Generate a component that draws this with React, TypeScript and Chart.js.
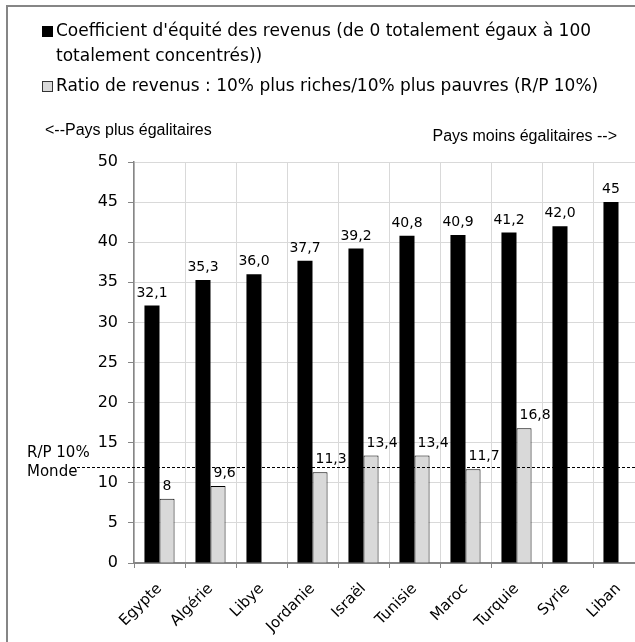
import { useEffect, useRef } from "react";
import { Chart, registerables } from "chart.js";

Chart.register(...registerables);

const categories = ["Egypte", "Algérie", "Libye", "Jordanie", "Israël", "Tunisie", "Maroc", "Turquie", "Syrie", "Liban"];
const giniValues = [32.1, 35.3, 36.0, 37.7, 39.2, 40.8, 40.9, 41.2, 42.0, 45];
const giniLabels = ["32,1", "35,3", "36,0", "37,7", "39,2", "40,8", "40,9", "41,2", "42,0", "45"];
const ratioValues = [8, 9.6, null, 11.3, 13.4, 13.4, 11.7, 16.8, null, null];
const ratioLabels = ["8", "9,6", "", "11,3", "13,4", "13,4", "11,7", "16,8", "", ""];
const worldRatio = 12;
const worldRatioLabel = ["R/P 10%", "Monde"];
const legendGini = ["Coefficient d'équité des revenus (de 0 totalement égaux à 100", "totalement concentrés))"];
const legendRatio = ["Ratio de revenus : 10% plus riches/10% plus pauvres (R/P 10%)"];
const leftNote = "<--Pays plus égalitaires";
const rightNote = "Pays moins égalitaires -->";
const yMin = 0;
const yMax = 50;
const yStep = 5;

const FONT = "'DejaVu Sans', Verdana, sans-serif";
const NOTE_FONT = "'Liberation Sans', Arial, sans-serif";

export default function App() {
  const ref = useRef<HTMLCanvasElement>(null);

  useEffect(() => {
    const canvas = ref.current!;
    const overlay = {
      id: "overlay",
      afterDatasetsDraw(chart: any) {
        const ctx = chart.ctx as CanvasRenderingContext2D;
        const y = chart.scales.y;
        ctx.save();
        ctx.fillStyle = "#000";
        ctx.font = `14px ${FONT}`;
        ctx.textBaseline = "alphabetic";
        const labelSets = [giniLabels, ratioLabels];
        chart.data.datasets.forEach((ds: any, di: number) => {
          const meta = chart.getDatasetMeta(di);
          meta.data.forEach((el: any, i: number) => {
            const v = ds.data[i];
            if (v === null || v === undefined) return;
            if (di === 0) {
              ctx.textAlign = "center";
              ctx.fillText(labelSets[di][i], el.x, el.y - 9);
            } else {
              ctx.textAlign = "left";
              ctx.fillText(labelSets[di][i], el.x - el.width / 2 + 3, el.y - 9);
            }
          });
        });
        const py = Math.round(y.getPixelForValue(worldRatio)) + 0.5;
        ctx.strokeStyle = "#000";
        ctx.lineWidth = 1.2;
        ctx.setLineDash([3, 2]);
        ctx.beginPath();
        ctx.moveTo(72, py);
        ctx.lineTo(chart.width, py);
        ctx.stroke();
        ctx.setLineDash([]);
        ctx.font = `15px ${FONT}`;
        ctx.textAlign = "left";
        ctx.textBaseline = "middle";
        ctx.fillText(worldRatioLabel[0], 27, py - 14);
        ctx.fillText(worldRatioLabel[1], 27, py + 5);
        ctx.restore();
      },
      afterDraw(chart: any) {
        const ctx = chart.ctx as CanvasRenderingContext2D;
        ctx.save();
        ctx.font = `17px ${FONT}`;
        ctx.textAlign = "left";
        ctx.textBaseline = "middle";
        ctx.fillStyle = "#000";
        ctx.fillRect(42, 26, 11, 11);
        ctx.fillText(legendGini[0], 56, 32);
        ctx.fillText(legendGini[1], 56, 57);
        ctx.fillStyle = "#d9d9d9";
        ctx.fillRect(42, 81, 11, 11);
        ctx.strokeStyle = "#333";
        ctx.lineWidth = 1;
        ctx.strokeRect(42.5, 81.5, 10, 10);
        ctx.fillStyle = "#000";
        ctx.fillText(legendRatio[0], 56, 87);
        ctx.font = `16px ${NOTE_FONT}`;
        ctx.fillText(leftNote, 45, 131);
        ctx.textAlign = "right";
        ctx.fillText(rightNote, 617, 137);
        ctx.restore();
      },
    };

    const chart = new Chart(canvas, {
      type: "bar",
      data: {
        labels: categories,
        datasets: [
          { label: legendGini.join(" "), data: giniValues, backgroundColor: "#000000", borderWidth: 0 },
          { label: legendRatio[0], data: ratioValues as any, backgroundColor: "#d9d9d9", borderColor: "#000000", borderWidth: 1 },
        ],
      },
      options: {
        responsive: false,
        animation: false,
        layout: { padding: { top: 162, right: 36, left: 0, bottom: 0 } },
        font: { family: FONT },
        plugins: { legend: { display: false }, tooltip: { enabled: false } },
        datasets: { bar: { categoryPercentage: 0.59, barPercentage: 1 } },
        scales: {
          x: {
            offset: true,
            grid: { offset: true, color: "#d9d9d9", tickColor: "#868686", tickLength: 5 },
            border: { color: "#868686", width: 2 },
            ticks: { autoSkip: false, minRotation: 45, maxRotation: 45, padding: 12, color: "#000", font: { family: FONT, size: 15 } },
            afterFit: (s: any) => { s.height = 117; },
          },
          y: {
            min: yMin,
            max: yMax,
            ticks: { stepSize: yStep, color: "#000", padding: 10, font: { family: FONT, size: 16 } },
            grid: { color: "#d9d9d9", tickColor: "#868686", tickLength: 6 },
            border: { color: "#868686", width: 1.5 },
            afterFit: (s: any) => { s.width = 134; },
          },
        },
      } as any,
      plugins: [overlay],
    });
    return () => chart.destroy();
  }, []);

  return (
    <div style={{ position: "fixed", left: 0, top: 0, width: 635, height: 642, overflow: "hidden", background: "#fff" }}>
      <div style={{ position: "absolute", left: 6, top: 5, width: 720, height: 720, border: "2px solid #868686" }} />
      <canvas ref={ref} width={680} height={680} style={{ position: "absolute", left: 0, top: 0, width: 680, height: 680 }} />
    </div>
  );
}
